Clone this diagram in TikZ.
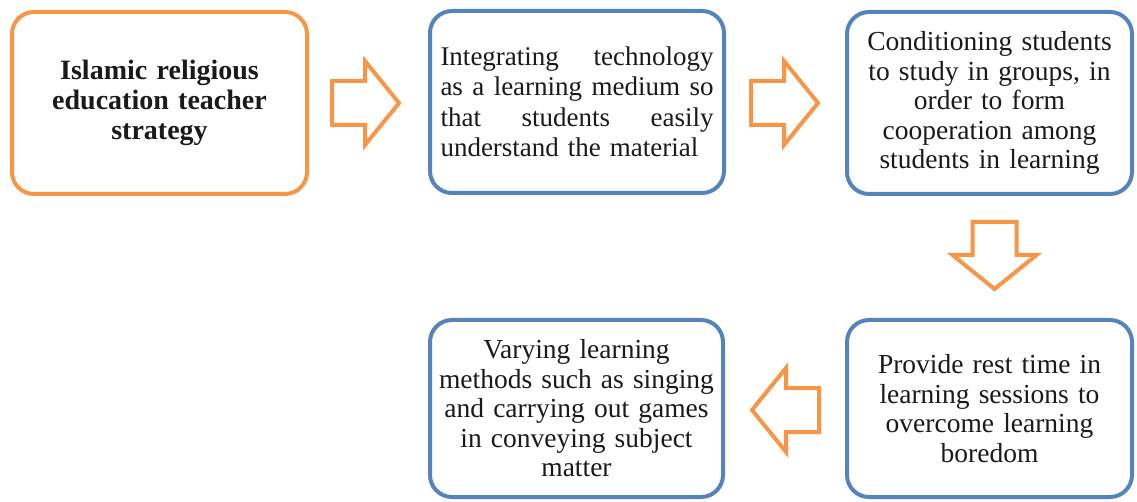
\documentclass[tikz,border=0pt]{standalone}
\usepackage{fontspec}
\setmainfont{Liberation Serif}
\definecolor{boxorange}{HTML}{F79646}
\definecolor{boxblue}{HTML}{5583BE}
\definecolor{txt}{HTML}{1A1A1A}
\tikzset{
  card/.style={draw=#1, line width=4pt, rounded corners=22pt, fill=white,
    inner sep=0pt, align=center, text=txt,
    font=\fontsize{27.5}{29.5}\selectfont},
  blockarrow/.style={draw=boxorange, line width=4pt, line join=miter, fill=white},
}
\newcommand{\jline}[1]{\leavevmode\hbox to 273pt{#1}}
\begin{document}
\begin{tikzpicture}[x=1pt,y=-1pt]
\useasboundingbox (0,0) rectangle (1137,502);
\clip (0,0) rectangle (1137,502);
% boxes
\node[card=boxorange, minimum width=295pt, minimum height=182pt, text width=285pt,
      font=\fontsize{28}{30}\selectfont\bfseries] (b1) at (159.5,103)
  {Islamic religious\\education teacher\\strategy};
\node[card=boxblue, minimum width=294pt, minimum height=182pt, text width=273pt, align=left,
      font=\fontsize{27}{30.5}\selectfont] (b2) at (577,102)
  {\jline{Integrating\hfill technology}\\
   \jline{as\hfill a\hfill learning\hfill medium\hfill so}\\
   \jline{that\hfill students\hfill easily}\\
   understand the material};
\node[card=boxblue, minimum width=285pt, minimum height=182pt, text width=275pt] (b3) at (989.5,103)
  {Conditioning students\\to study in groups, in\\order to form\\cooperation among\\students in learning};
\node[card=boxblue, minimum width=285pt, minimum height=177pt, text width=275pt] (b4) at (989.5,408.5)
  {Provide rest time in\\learning sessions  to\\overcome learning\\boredom};
\node[card=boxblue, minimum width=293pt, minimum height=177pt, text width=280pt] (b5) at (576.5,408.5)
  {Varying learning\\methods such as  singing\\and carrying out games\\in conveying subject\\matter};
% arrow anchor points (start of shaft, centre line)
\coordinate (a1) at (332,103);
\coordinate (a2) at (751,103);
\coordinate (a3) at (994.5,222);
\coordinate (a4) at (819,410);
\foreach \p/\r in {a1/0, a2/0, a3/-90, a4/180}{
  \begin{scope}[shift={(\p)}, rotate=\r]
    \draw[blockarrow] (0,-22) -- (33,-22) -- (33,-42) -- (67,0) -- (33,42) -- (33,22) -- (0,22) -- cycle;
  \end{scope}
}
\end{tikzpicture}
\end{document}
